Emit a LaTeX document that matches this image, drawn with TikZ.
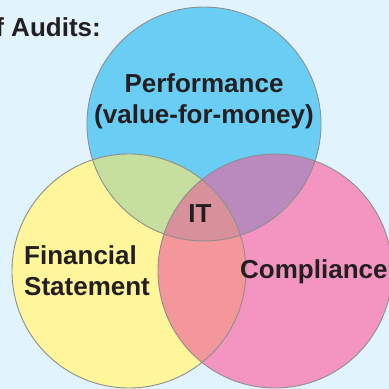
\documentclass[tikz,border=0pt]{standalone}
\usepackage{fontspec}
\setmainfont{Liberation Sans}
\definecolor{bgblue}{HTML}{E1F3FD}
\definecolor{perfblue}{HTML}{69CDF4}
\definecolor{finyellow}{HTML}{FFF59B}
\definecolor{comppink}{HTML}{F395C0}
\definecolor{pfgreen}{HTML}{C6DF9F}
\definecolor{pcpurple}{HTML}{BA8ABF}
\definecolor{fcred}{HTML}{F4979B}
\definecolor{itrose}{HTML}{D8919A}
\definecolor{ringgray}{HTML}{8E8E8E}
\definecolor{inkgray}{HTML}{231F20}

\begin{document}
\begin{tikzpicture}[x=1pt,y=-1pt,
    lbl/.style={font=\fontsize{26}{31}\selectfont\bfseries, text=inkgray, inner sep=0pt},
    ring/.style={draw=ringgray, line width=0.9pt}]
    \useasboundingbox (0,0) rectangle (389,389);
    \clip (0,0) rectangle (389,389);
    \fill[bgblue] (0,0) rectangle (389,389);

    \coordinate (perf) at (204,124);
    \coordinate (fin)  at (129,271);
    \coordinate (comp) at (275,271);

    \fill[perfblue]  (perf) circle[radius=117pt];
    \fill[finyellow] (fin)  circle[radius=117pt];
    \fill[comppink]  (comp) circle[radius=117pt];
    \begin{scope}
        \clip (perf) circle[radius=117pt];
        \fill[pfgreen]  (fin)  circle[radius=117pt];
        \fill[pcpurple] (comp) circle[radius=117pt];
    \end{scope}
    \begin{scope}
        \clip (fin) circle[radius=117pt];
        \fill[fcred] (comp) circle[radius=117pt];
        \clip (perf) circle[radius=117pt];
        \fill[itrose] (comp) circle[radius=117pt];
    \end{scope}
    \draw[ring] (perf) circle[radius=117pt];
    \draw[ring] (fin)  circle[radius=117pt];
    \draw[ring] (comp) circle[radius=117pt];

    \node[lbl, anchor=east] (audits) at (101,27) {f Audits:};
    \node[lbl, align=center] (performance) at (204,101) {Performance\\(value-for-money)};
    \node[lbl] (it) at (200,214) {IT};
    \node[lbl, align=left, anchor=west] (financial) at (24,271) {Financial\\Statement};
    \node[lbl, anchor=west] (compliance) at (240,272) {Compliance};
\end{tikzpicture}
\end{document}
